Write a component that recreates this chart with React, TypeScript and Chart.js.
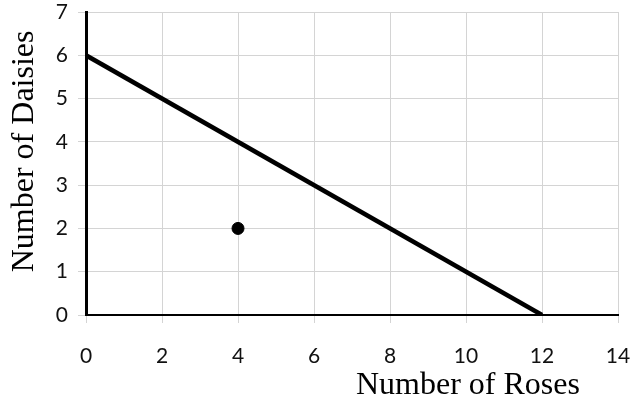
import React, { useEffect, useRef } from "react";
import { Chart, registerables } from "chart.js";

Chart.register(...registerables);

const lineX = [0, 12];
const lineY = [6, 0];
const pointX = [4];
const pointY = [2];
const xRange = [0, 14];
const yRange = [0, 7];
const xStep = 2;
const yStep = 1;
const xTitle = "Number of Roses";
const yTitle = "Number of Daisies";

const titlePlugin = {
  id: "freeTitles",
  afterDraw(chart: any) {
    const { ctx, chartArea } = chart;
    ctx.save();
    ctx.fillStyle = "#000";
    ctx.font = "32px 'Liberation Serif', 'Times New Roman', serif";
    ctx.textAlign = "center";
    ctx.textBaseline = "alphabetic";
    ctx.fillText(xTitle, chartArea.left + (chartArea.right - chartArea.left) * 0.718, 394);
    ctx.translate(33, chartArea.top + (chartArea.bottom - chartArea.top) * 0.46);
    ctx.rotate(-Math.PI / 2);
    ctx.fillText(yTitle, 0, 0);
    ctx.restore();
  },
};

export default function App() {
  const ref = useRef<HTMLCanvasElement | null>(null);
  useEffect(() => {
    if (!ref.current) return;
    const chart = new Chart(ref.current, {
      type: "scatter",
      data: {
        datasets: [
          {
            type: "line",
            data: lineX.map((x, i) => ({ x, y: lineY[i] })),
            borderColor: "#000",
            borderWidth: 4.5,
            pointRadius: 0,
            fill: false,
          } as any,
          {
            data: pointX.map((x, i) => ({ x, y: pointY[i] })),
            backgroundColor: "#000",
            borderColor: "#000",
            pointRadius: 6,
          },
        ],
      },
      plugins: [titlePlugin],
      options: {
        animation: false,
        responsive: true,
        maintainAspectRatio: false,
        layout: { padding: { top: 12, right: 14, left: 0, bottom: 0 } },
        plugins: { legend: { display: false }, tooltip: { enabled: false } },
        scales: {
          x: {
            type: "linear",
            min: xRange[0],
            max: xRange[1],
            afterFit: (s: any) => {
              s.height = 85;
              s.paddingLeft = 0;
              s.paddingRight = 0;
            },
            ticks: {
              stepSize: xStep,
              color: "#111",
              font: { family: "Lato", size: 21 },
              padding: 21,
              autoSkip: false,
              maxRotation: 0,
            },
            grid: { color: "#d4d4d4", tickLength: 8, tickColor: "#d4d4d4" },
            border: { color: "#000", width: 2 },
          },
          y: {
            type: "linear",
            min: yRange[0],
            max: yRange[1],
            afterFit: (s: any) => {
              s.width = 86;
              s.paddingTop = 0;
              s.paddingBottom = 0;
            },
            ticks: {
              stepSize: yStep,
              color: "#111",
              font: { family: "Lato", size: 21 },
              padding: 10,
              autoSkip: false,
            },
            grid: { color: "#d4d4d4", tickLength: 8, tickColor: "#d4d4d4" },
            border: { color: "#000", width: 3 },
          },
        },
      },
    });
    return () => chart.destroy();
  }, []);
  return (
    <div style={{ position: "fixed", left: 0, top: 0, width: 632, height: 400, background: "#fff" }}>
      <canvas ref={ref} />
    </div>
  );
}
